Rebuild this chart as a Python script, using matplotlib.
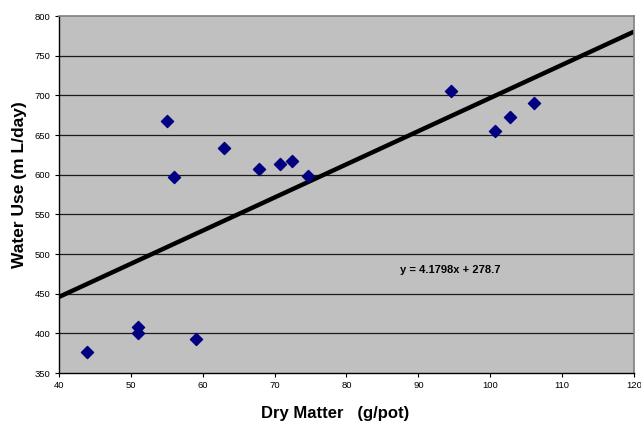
import numpy as np
import matplotlib.pyplot as plt

plt.rcParams['font.family'] = ['Liberation Sans', 'DejaVu Sans']

# dry matter (g/pot) vs water use (mL/day)
dry_matter = [55.0, 56.0, 63.0, 67.8, 70.7, 72.4, 74.7, 94.5, 100.6, 102.8, 106.1,
              43.9, 51.0, 51.0, 59.0]
water_use = [668, 597, 633, 607, 614, 617, 598, 705, 655, 673, 690,
             377, 408, 401, 393]

# linear trend line from the chart's equation
slope = 4.1798
intercept = 278.7

x_ticks = [40, 50, 60, 70, 80, 90, 100, 110, 120]
y_ticks = [350, 400, 450, 500, 550, 600, 650, 700, 750, 800]

fig = plt.figure(figsize=(6.41, 4.23), dpi=100)
ax = fig.add_axes([59 / 641, 50 / 423, 575 / 641, 357 / 423])
ax.set_facecolor('#C0C0C0')

for yv in y_ticks[1:-1]:
    ax.axhline(yv, color='#1a1a1a', lw=0.9, zorder=1)

xs = np.array([40, 120])
ax.plot(xs, slope * xs + intercept, color='black', lw=3.2, zorder=2,
        solid_capstyle='butt')
ax.scatter(dry_matter, water_use, marker='D', s=38, color='#000080',
           edgecolors='#000080', zorder=3)

ax.text(94.5, 480, 'y = 4.1798x + 278.7', fontsize=8, fontweight='bold',
        ha='center', va='center')

ax.set_xlim(40, 120)
ax.set_ylim(350, 800)
ax.set_xticks(x_ticks)
ax.set_yticks(y_ticks)
ax.tick_params(labelsize=6.8, length=3, width=0.8, colors='black', pad=3)

ax.spines['left'].set_color('black')
ax.spines['bottom'].set_color('black')
ax.spines['left'].set_linewidth(1.0)
ax.spines['bottom'].set_linewidth(1.0)
ax.spines['top'].set_color('#808080')
ax.spines['right'].set_color('#808080')
ax.spines['top'].set_linewidth(1.2)
ax.spines['right'].set_linewidth(1.2)

ax.set_xlabel('Dry Matter   (g/pot)', fontsize=12, fontweight='bold')
ax.set_ylabel('Water Use (m L/day)', fontsize=12.5, fontweight='bold')
ax.xaxis.set_label_coords(0.481, -0.093)
ax.yaxis.set_label_coords(-0.056, 0.529)

fig.savefig('out.png', dpi=100)
